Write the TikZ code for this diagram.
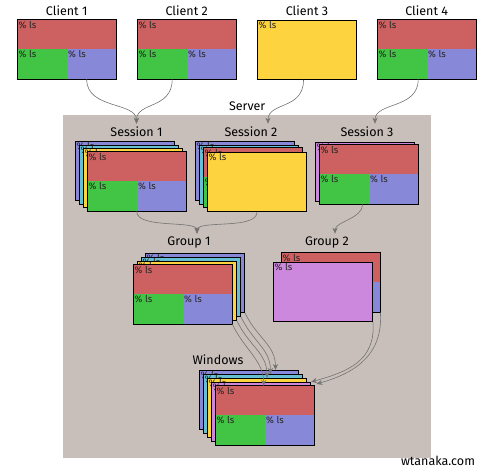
\documentclass[tikz,border=0pt]{standalone}
\usepackage{fontspec}
\setmainfont{Fira Sans}
\usetikzlibrary{arrows.meta,positioning}

\definecolor{panered}{HTML}{CD6060}
\definecolor{panegreen}{HTML}{42C444}
\definecolor{paneblue}{HTML}{8888D8}
\definecolor{paneyellow}{HTML}{FDD440}
\definecolor{panecyan}{HTML}{66C0D2}
\definecolor{panepurple}{HTML}{CC88DC}
\definecolor{serverbg}{HTML}{C8BFBA}

\tikzset{
  pane/.style={inner sep=0pt, anchor=north west, minimum width=99pt, minimum height=59pt},
  frame/.style={draw=black, line width=1pt},
  tag/.style={anchor=north west, inner sep=1.5pt, font=\fontsize{9.5}{10}\selectfont, text=black!85},
  title/.style={font=\fontsize{12.5}{14}\selectfont},
  link/.style={draw=black!55, line width=0.6pt, -{Stealth[length=6pt,width=5pt]}}
}

% one window, a single colour
\newcommand{\plainwin}[4]{%
  \node[pane, fill=#4, frame] (#1) at (#2,#3) {};
  \node[tag] at (#1.north west) {\% ls};
}
% one window, split in three panes
\newcommand{\splitwin}[3]{%
  \node[pane, fill=panered] (#1) at (#2,#3) {};
  \node[inner sep=0pt, minimum width=49.5pt, minimum height=30pt, fill=panegreen, anchor=south west] (#1-l) at (#1.south west) {};
  \node[inner sep=0pt, minimum width=49.5pt, minimum height=30pt, fill=paneblue, anchor=south east] (#1-r) at (#1.south east) {};
  \node[tag] at (#1.north west) {\% ls};
  \node[tag] at (#1-l.north west) {\% ls};
  \node[tag] at (#1-r.north west) {\% ls};
  \draw[frame] (#1.north west) rectangle (#1.south east);
}

\begin{document}
\begin{tikzpicture}[x=1pt,y=-1pt]
  \useasboundingbox (0,0) rectangle (496,470);

  % server area
  \node[fill=serverbg, inner sep=0pt, minimum width=368pt, minimum height=343pt, anchor=north west] (server) at (63,115) {};
  \node[title, above=4.5pt of server, anchor=base] {Server};

  % clients
  \splitwin{c1}{17}{20}
  \splitwin{c2}{137}{20}
  \plainwin{c3}{257}{20}{paneyellow}
  \splitwin{c4}{377}{20}
  \node[title, above=4pt of c1, anchor=base] {Client 1};
  \node[title, above=4pt of c2, anchor=base] {Client 2};
  \node[title, above=4pt of c3, anchor=base] {Client 3};
  \node[title, above=4pt of c4, anchor=base] {Client 4};

  % sessions
  \plainwin{s1a}{75}{141}{paneblue}
  \plainwin{s1b}{79}{145}{panecyan}
  \plainwin{s1c}{83}{148}{paneyellow}
  \splitwin{s1d}{87}{152}
  \node[title, anchor=base] (s1t) at (136.5,137) {Session 1};

  \plainwin{s2a}{195}{141}{paneblue}
  \plainwin{s2b}{199}{145}{panecyan}
  \splitwin{s2c}{203}{148}
  \plainwin{s2d}{207}{152}{paneyellow}
  \node[title, anchor=base] (s2t) at (251,137) {Session 2};

  \plainwin{s3a}{315}{142}{panepurple}
  \splitwin{s3b}{319}{145}
  \node[title, anchor=base] (s3t) at (367,137) {Session 3};

  % groups
  \plainwin{g1a}{145}{253}{paneblue}
  \plainwin{g1b}{141}{257}{panecyan}
  \plainwin{g1c}{137}{261}{paneyellow}
  \splitwin{g1d}{133}{265}
  \node[title, anchor=base] (g1t) at (189,246) {Group 1};

  \splitwin{g2a}{281}{253}
  \plainwin{g2b}{273}{262}{panepurple}
  \node[title, anchor=base] (g2t) at (327,246) {Group 2};

  % windows
  \plainwin{w1}{199}{370}{paneblue}
  \plainwin{w2}{203}{374}{panecyan}
  \plainwin{w3}{207}{378}{paneyellow}
  \plainwin{w4}{211}{382}{panepurple}
  \splitwin{w5}{215}{386}
  \node[title, anchor=base] (wt) at (218,365) {Windows};

  \node[title, anchor=base] (site) at (438,466) {wtanaka.com};

  % clients to sessions
  \draw[link] ([xshift=20pt]c1.south) .. controls +(0,30) and +(0,-22) .. (s1t.north);
  \draw[link] ([xshift=-14.5pt]c2.south) .. controls +(0,30) and +(0,-22) .. (s1t.north);
  \draw[link] ([xshift=-3.5pt]c3.south) .. controls +(0,30) and +(0,-22) .. ([xshift=17pt]s2t.north);
  \draw[link] ([xshift=-8.5pt]c4.south) .. controls +(0,30) and +(0,-22) .. ([xshift=8pt]s3t.north);

  % sessions to groups
  \draw[link] (s1d.south) .. controls +(0,18) and +(0,-14) .. ([xshift=8pt]g1t.north);
  \draw[link] (s2d.south) .. controls +(0,18) and +(0,-14) .. ([xshift=8pt]g1t.north);
  \draw[link] ([xshift=-6pt]s3b.south) .. controls +(0,14) and +(0,-12) .. ([xshift=8pt]g2t.north);

  % groups to windows
  \draw[link] (g1a.south east) .. controls +(12,25) and +(0,-25) .. ([xshift=26.5pt]w1.north);
  \draw[link] (g1b.south east) .. controls +(12,25) and +(0,-25) .. ([xshift=17.5pt]w2.north);
  \draw[link] (g1c.south east) .. controls +(12,25) and +(0,-25) .. ([xshift=10pt]w3.north);
  \draw[link] (g1d.south east) .. controls +(12,25) and +(0,-25) .. ([xshift=-1pt]w5.north);
  \draw[link] (g2b.south east) .. controls +(3,40) and +(35,-10) .. (w4.north east);
  \draw[link] (g2a.south east) .. controls +(3,45) and +(35,-10) .. ([xshift=2pt,yshift=2pt]w5.north east);
\end{tikzpicture}
\end{document}
